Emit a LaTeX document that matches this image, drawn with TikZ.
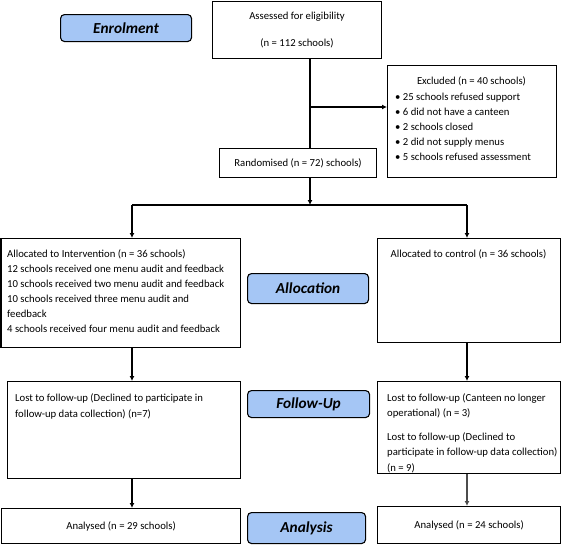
\documentclass[tikz,border=0pt]{standalone}
\usepackage{fontspec}
\setmainfont{Carlito}
\usetikzlibrary{arrows.meta}
\definecolor{phaseblue}{RGB}{165,198,245}
\begin{document}
\begin{tikzpicture}[x=1pt, y=-1pt,
	box/.style={draw, line width=1.1pt, inner sep=0pt, anchor=north west, font=\fontsize{10.7}{15}\selectfont},
	phase/.style={draw, line width=1.1pt, rounded corners=4pt, fill=phaseblue, inner sep=0pt, anchor=north west, font=\fontsize{15.3}{17}\selectfont\bfseries\itshape},
	txt/.style={inner sep=0pt, align=left, font=\fontsize{10.7}{15}\selectfont},
	arr/.style={-{Latex[length=5pt,width=5pt]}, line width=1.1pt}]
	\useasboundingbox (0,0) rectangle (567,544);
	%phasen
	\node[phase, minimum width=131pt, minimum height=27pt] (enrol) at (60,14) {Enrolment};
	\node[phase, minimum width=121pt, minimum height=30pt] (alloc) at (247,273) {Allocation};
	\node[phase, minimum width=122pt, minimum height=27pt] (follow) at (247,390) {Follow-Up};
	\node[phase, minimum width=118pt, minimum height=31pt] (analysis) at (247,512) {Analysis};
	%boxen oben
	\node[box, minimum width=169pt, minimum height=57.5pt, align=center] (assess) at (212,0.5) {Assessed for eligibility\\[12pt](n = 112 schools)};
	\node[box, minimum width=169pt, minimum height=112pt] (excl) at (387,65) {};
	\node[txt, anchor=north] (excltitle) at (471.5,76) {Excluded (n = 40 schools)};
	\node[txt, anchor=north west] (excllist) at (395,92.5) {\textbullet\ 25 schools refused support\\\textbullet\ 6 did not have a canteen\\\textbullet\ 2 schools closed\\\textbullet\ 2 did not supply menus\\\textbullet\ 5 schools refused assessment};
	\node[box, minimum width=157pt, minimum height=29pt] (rand) at (219,148) {Randomised (n = 72) schools)};
	%zuteilung
	\node[box, minimum width=239.5pt, minimum height=109pt] (interv) at (0.5,238) {};
	\node[txt, anchor=north west] (intervtext) at (7,249) {Allocated to Intervention (n = 36 schools)\\12 schools received one menu audit and feedback\\10 schools received two menu audit and feedback\\10 schools received three menu audit and\\feedback\\4 schools received four menu audit and feedback};
	\node[box, minimum width=183pt, minimum height=104pt] (ctrl) at (377,238) {};
	\node[txt, anchor=north] (ctrltext) at (468.5,249) {Allocated to control (n = 36 schools)};
	%follow-up
	\node[box, minimum width=233pt, minimum height=97pt] (fuL) at (7,381) {};
	\node[txt, anchor=north west, font=\fontsize{10.7}{16}\selectfont] (fuLtext) at (15,393) {Lost to follow-up (Declined to participate in\\follow-up data collection) (n=7)};
	\node[box, minimum width=183pt, minimum height=92pt] (fuR) at (377,381) {};
	\node[txt, anchor=north west, font=\fontsize{10.7}{15.5}\selectfont] (fuRtext) at (387,393) {Lost to follow-up (Canteen no longer\\operational) (n = 3)\\[8pt]Lost to follow-up (Declined to\\participate in follow-up data collection)\\(n = 9)};
	%analyse
	\node[box, minimum width=239pt, minimum height=35pt] (anL) at (1,508) {Analysed (n = 29 schools)};
	\node[box, minimum width=183pt, minimum height=37pt] (anR) at (377,506) {Analysed (n = 24 schools)};
	%pfeile
	\coordinate (trunk) at (310,107);
	\coordinate (split) at (310,205);
	\coordinate (lft) at (132,205);
	\coordinate (rgt) at (467,205);
	\draw[line width=1.1pt] (assess.south -| trunk) -- (rand.north -| trunk);
	\draw[arr] (trunk) -- (trunk -| excl.west);
	\draw[arr] (rand.south -| split) -- (split);
	\draw[line width=1.1pt] (lft) -- (rgt);
	\draw[arr] (lft) -- (lft |- interv.north);
	\draw[arr] (rgt) -- (rgt |- ctrl.north);
	\draw[arr] (interv.south -| lft) -- (fuL.north -| lft);
	\draw[arr] (ctrl.south -| rgt) -- (fuR.north -| rgt);
	\draw[arr] (fuL.south -| lft) -- (anL.north -| lft);
	\draw[arr, gray!60!black] (fuR.south -| rgt) -- (anR.north -| rgt);
\end{tikzpicture}
\end{document}
